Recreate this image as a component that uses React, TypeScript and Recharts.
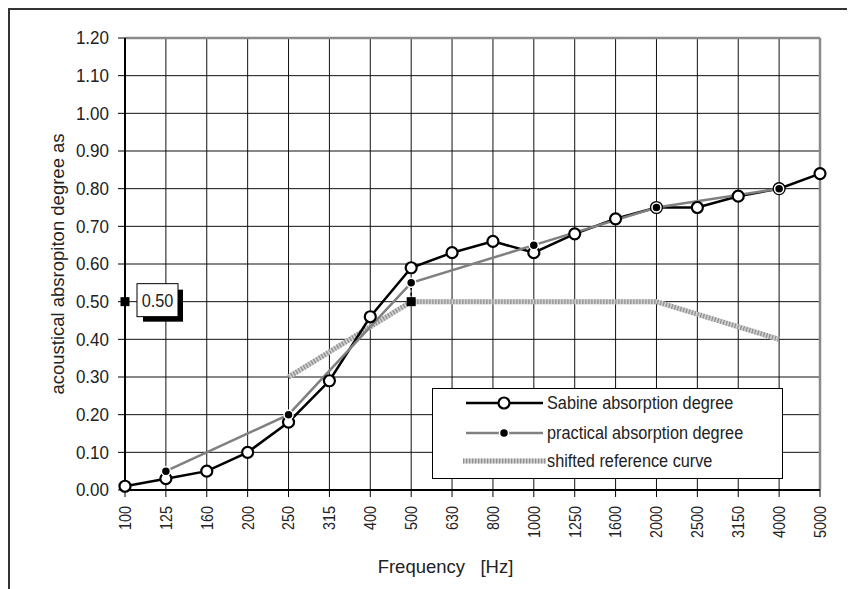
import React from 'react';
import {
  LineChart,
  Line,
  XAxis,
  YAxis,
  CartesianGrid,
  ReferenceDot,
  ReferenceLine,
  Legend,
} from 'recharts';

const frequencies = ['100', '125', '160', '200', '250', '315', '400', '500', '630', '800', '1000', '1250', '1600', '2000', '2500', '3150', '4000', '5000'];
const sabine = [0.01, 0.03, 0.05, 0.10, 0.18, 0.29, 0.46, 0.59, 0.63, 0.66, 0.63, 0.68, 0.72, 0.75, 0.75, 0.78, 0.80, 0.84];
const practical = [null, 0.05, null, null, 0.20, null, null, 0.55, null, null, 0.65, null, null, 0.75, null, null, 0.80, null];
const shiftedRef = [null, null, null, null, 0.30, null, null, 0.50, null, null, 0.50, null, null, 0.50, null, null, 0.40, null];
const yTicks = [0, 0.1, 0.2, 0.3, 0.4, 0.5, 0.6, 0.7, 0.8, 0.9, 1.0, 1.1, 1.2];
const weightedValue = 0.5;
const weightedFreq = '500';
const weightedLabel = '0.50';
const seriesNames = ['Sabine absorption degree', 'practical absorption degree', 'shifted reference curve'];
const xTitle = 'Frequency\u00a0\u00a0\u00a0[Hz]';
const yTitle = 'acoustical absropiton degree as';

const data = frequencies.map((f, i) => ({
  f,
  sabine: sabine[i],
  practical: practical[i],
  shifted: shiftedRef[i],
}));

const FONT = '"Liberation Sans", Arial, sans-serif';
const FS = 18.5;
const TXT = '#222';

const NText = ({ x, y, rotate = 0, anchor = 'start', sx = 0.88, fs = FS, children }: any) => (
  <g transform={`translate(${x},${y}) rotate(${rotate}) scale(${sx},1)`}>
    <text x={0} y={0} textAnchor={anchor} dominantBaseline="central" fontFamily={FONT} fontSize={fs} fill={TXT}>
      {children}
    </text>
  </g>
);

const XTick = (props: any) => {
  const { x, y, payload } = props;
  return <NText x={x} y={y} rotate={-90} anchor="end" fs={16.5} sx={0.87}>{payload.value}</NText>;
};

const YTick = (props: any) => {
  const { x, y, payload } = props;
  return <NText x={x} y={y} anchor="end" sx={0.92}>{Number(payload.value).toFixed(2)}</NText>;
};

const SabineDot = (props: any) => {
  const { cx, cy, index } = props;
  if (cx == null || cy == null) return <g key={index} />;
  return <circle key={index} cx={cx} cy={cy} r={5.5} fill="#fff" stroke="#000" strokeWidth={2.2} />;
};

const PracticalDot = (props: any) => {
  const { cx, cy, index } = props;
  if (cx == null || cy == null) return <g key={index} />;
  return <circle key={index} cx={cx} cy={cy} r={4.5} fill="#000" stroke="#fff" strokeWidth={1.5} />;
};

const WeightedMarker = (props: any) => {
  const { cx, cy } = props;
  return (
    <g>
      <rect x={cx - 4.5} y={cy - 4.5} width={9} height={9} fill="#000" />
      <rect x={cx + 18} y={cy - 12} width={40} height={32} fill="#000" />
      <rect x={cx + 12} y={cy - 18} width={41} height={33} fill="#fff" stroke="#000" strokeWidth={1} />
      <NText x={cx + 32.5} y={cy - 1.5} anchor="middle">{weightedLabel}</NText>
    </g>
  );
};

const SquareMarker = (props: any) => {
  const { cx, cy } = props;
  return <rect x={cx - 4.5} y={cy - 4.5} width={9} height={9} fill="#000" />;
};

const XTitle = (props: any) => {
  const vb = props.viewBox || {};
  return <NText x={vb.x + vb.width / 2 - 27} y={vb.y + 76} anchor="middle" sx={1}>{xTitle}</NText>;
};

const YTitle = (props: any) => {
  const vb = props.viewBox || {};
  return <NText x={47} y={vb.y + vb.height / 2} rotate={-90} anchor="middle" sx={1}>{yTitle}</NText>;
};

const legendRows = [15, 45, 73];

const LegendBox = () => (
  <svg width={351} height={91} style={{ display: 'block' }}>
    <rect x={0.5} y={0.5} width={350} height={90} fill="#fff" stroke="#000" strokeWidth={1} />
    <line x1={34} x2={111} y1={15} y2={15} stroke="#000" strokeWidth={2.5} />
    <circle cx={72} cy={15} r={5.5} fill="#fff" stroke="#000" strokeWidth={2.2} />
    <line x1={34} x2={111} y1={45} y2={45} stroke="#808080" strokeWidth={2.5} />
    <circle cx={72} cy={45} r={4.5} fill="#000" stroke="#fff" strokeWidth={1.5} />
    <line x1={31} x2={114} y1={73} y2={73} stroke="#cfcfcf" strokeWidth={5} />
    <line x1={31} x2={114} y1={73} y2={73} stroke="#909090" strokeWidth={5} strokeDasharray="1.3 1.7" />
    {seriesNames.map((n, i) => (
      <NText key={n} x={115} y={legendRows[i]}>{n}</NText>
    ))}
  </svg>
);

export default function App() {
  return (
    <div style={{ width: 841, height: 580, border: '2px solid #333', background: '#fff' }}>
      <LineChart width={841} height={580} data={data} margin={{ top: 28, right: 31, bottom: 0, left: 0 }}>
        <CartesianGrid stroke="#111" strokeWidth={1} horizontal vertical />
        <XAxis
          dataKey="f"
          type="category"
          height={100}
          tickSize={7}
          tickMargin={9}
          tick={<XTick />}
          interval={0}
          axisLine={{ stroke: '#000', strokeWidth: 2 }}
          tickLine={{ stroke: '#000', strokeWidth: 1 }}
          label={(p: any) => <XTitle {...p} />}
        />
        <YAxis
          domain={[0, 1.2]}
          ticks={yTicks}
          width={115}
          tickSize={7}
          tickMargin={9}
          tick={<YTick />}
          interval={0}
          axisLine={{ stroke: '#000', strokeWidth: 2 }}
          tickLine={{ stroke: '#000', strokeWidth: 1 }}
          label={(p: any) => <YTitle {...p} />}
        />
        <YAxis
          yAxisId="minor"
          domain={[0, 1.2]}
          tickCount={61}
          mirror
          tickSize={6}
          tick={() => <g />}
          axisLine={false}
          tickLine={{ stroke: '#000', strokeWidth: 1 }}
          interval={0}
        />
        <ReferenceLine y={1.2} stroke="#8a8a8a" strokeWidth={2.5} />
        <ReferenceLine x="5000" stroke="#8a8a8a" strokeWidth={2.5} />
        <Line
          dataKey="shifted"
          name={seriesNames[2]}
          stroke="#cfcfcf"
          strokeWidth={5}
          dot={false}
          connectNulls
          isAnimationActive={false}
          legendType="none"
        />
        <Line
          dataKey="shifted"
          name="shifted-hatch"
          stroke="#909090"
          strokeWidth={5}
          strokeDasharray="1.3 1.7"
          dot={false}
          connectNulls
          isAnimationActive={false}
          legendType="none"
        />
        <Line
          dataKey="sabine"
          name={seriesNames[0]}
          stroke="#000"
          strokeWidth={2.5}
          dot={<SabineDot />}
          isAnimationActive={false}
        />
        <Line
          dataKey="practical"
          name={seriesNames[1]}
          stroke="#808080"
          strokeWidth={2.5}
          dot={<PracticalDot />}
          connectNulls
          isAnimationActive={false}
        />
        <ReferenceLine
          segment={[
            { x: weightedFreq, y: weightedValue },
            { x: weightedFreq, y: 0.55 },
          ]}
          stroke="#000"
          strokeWidth={1.5}
          strokeDasharray="3 3"
        />
        <ReferenceDot x={weightedFreq} y={weightedValue} shape={<SquareMarker />} />
        <ReferenceDot x={frequencies[0]} y={weightedValue} shape={<WeightedMarker />} />
        <Legend
          layout="horizontal"
          verticalAlign="middle"
          align="center"
          content={() => <LegendBox />}
          wrapperStyle={{ left: 422, top: 378, width: 351, height: 91 }}
        />
      </LineChart>
    </div>
  );
}
